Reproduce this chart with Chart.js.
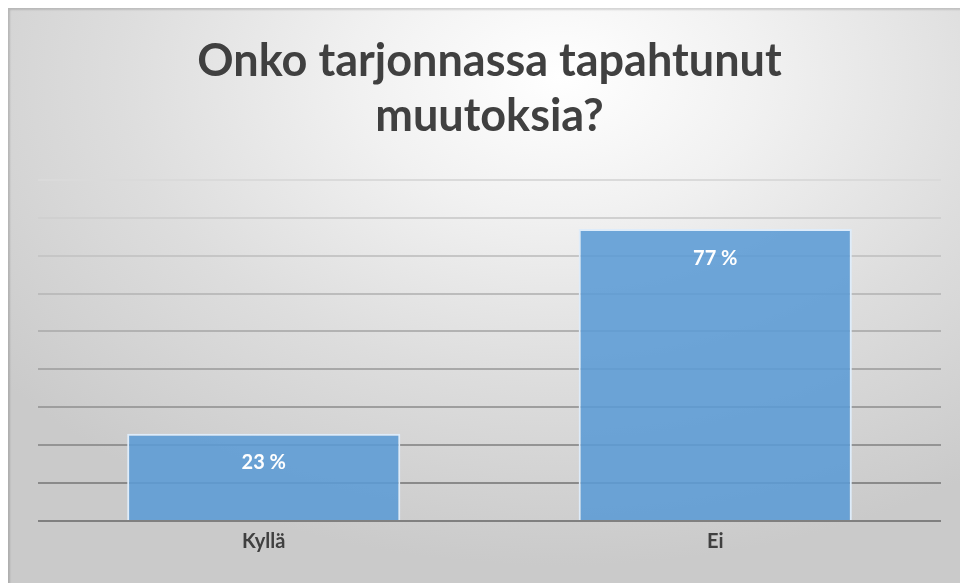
<!DOCTYPE html>
<html lang="fi">
<head>
<meta charset="utf-8">
<title>Onko tarjonnassa tapahtunut muutoksia?</title>
<script src="https://cdn.jsdelivr.net/npm/chart.js@4/dist/chart.umd.min.js"></script>
<style>
  html, body { margin: 0; padding: 0; background: #ffffff; }
  #chart-box {
    position: absolute;
    left: 8px;
    top: 8px;
    width: 952px;
    height: 575px;
    background: radial-gradient(ellipse 75% 85% at 58% 12%, #ffffff 0%, #f1f1f1 28%, #dddddd 62%, #cacaca 100%);
    box-shadow: inset 2px 2px 2px rgba(0, 0, 0, 0.14);
  }
</style>
</head>
<body>
<div id="chart-box">
  <canvas id="answer-chart"></canvas>
</div>
<script>
// Survey answers (share of respondents, %)
const categories = ['Kyllä', 'Ei'];
const shares = [23, 77];
const axisMax = 90;
const axisStep = 10;

const titleLines = ['Onko tarjonnassa tapahtunut', 'muutoksia?'];
const fontFamily = 'Lato, "Open Sans", "Noto Sans", sans-serif';
const textColor = '#404040';

// Gridlines fade from light at the top to dark at the baseline
function gridColor(ctx) {
    const steps = axisMax / axisStep;
    const t = Math.min(1, (ctx.index || 0) / steps);
    const v = Math.round(128 + (218 - 128) * t);
    return `rgb(${v}, ${v}, ${v})`;
}

// White percentage labels inside the top of each bar
const barLabels = {
    id: 'barLabels',
    afterDatasetsDraw(chart) {
        const ctx = chart.ctx;
        const meta = chart.getDatasetMeta(0);
        ctx.save();
        ctx.font = `bold 20px ${fontFamily}`;
        ctx.fillStyle = '#ffffff';
        ctx.textAlign = 'center';
        ctx.textBaseline = 'middle';
        meta.data.forEach((bar, i) => {
            ctx.fillText(`${shares[i]} %`, bar.x, bar.y + 29);
        });
        ctx.restore();
    }
};

const canvas = document.getElementById('answer-chart');
new Chart(canvas.getContext('2d'), {
    type: 'bar',
    data: {
        labels: categories,
        datasets: [{
            data: shares,
            backgroundColor: 'rgba(91, 155, 213, 0.88)',
            borderColor: 'rgba(222, 236, 250, 1)',
            borderWidth: 2,
            categoryPercentage: 1,
            barPercentage: 0.605
        }]
    },
    options: {
        responsive: true,
        maintainAspectRatio: false,
        animation: false,
        layout: {
            padding: { left: 30, right: 19, top: 8, bottom: 28 }
        },
        plugins: {
            legend: { display: false },
            tooltip: { enabled: false },
            title: {
                display: true,
                text: titleLines,
                color: textColor,
                font: { family: fontFamily, size: 45, weight: 'bold', lineHeight: 1.22 },
                padding: { top: 18, bottom: 36 }
            }
        },
        scales: {
            x: {
                grid: { display: false },
                border: { display: false },
                ticks: {
                    color: textColor,
                    padding: 1,
                    font: { family: fontFamily, size: 20, weight: 'bold' }
                }
            },
            y: {
                min: 0,
                max: axisMax,
                border: { display: false },
                grid: {
                    color: gridColor,
                    lineWidth: 2,
                    drawTicks: false
                },
                ticks: {
                    display: false,
                    stepSize: axisStep
                }
            }
        }
    },
    plugins: [barLabels]
});
</script>
</body>
</html>
